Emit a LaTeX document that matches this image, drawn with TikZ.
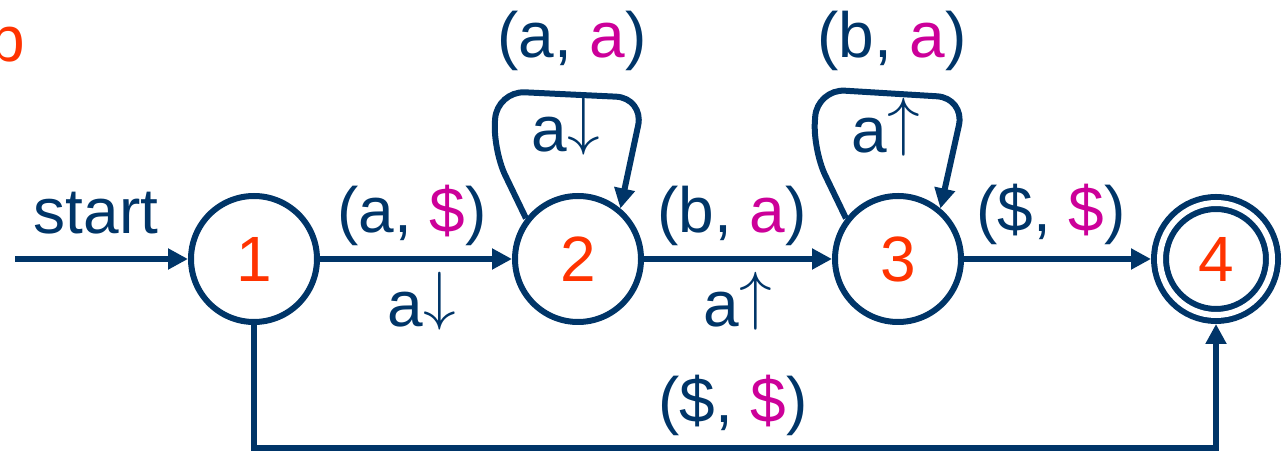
\documentclass[tikz,border=0pt]{standalone}
\usepackage{graphicx}
\usepackage{fontspec}
\setmainfont{Liberation Sans}
\usetikzlibrary{arrows.meta}
\definecolor{navy}{RGB}{0,53,104}
\definecolor{stnum}{RGB}{255,51,0}
\definecolor{pink}{RGB}{204,0,153}
\newcommand{\pk}[1]{\textcolor{pink}{#1}}
\newcommand{\pushdn}{\raisebox{4.8pt}{\resizebox*{!}{29pt}{$\downarrow$}}}
\newcommand{\popup}{\raisebox{4.8pt}{\resizebox*{!}{29pt}{$\uparrow$}}}

\begin{document}
\begin{tikzpicture}[x=0.5pt,y=-0.5pt,
  font=\fontsize{32}{38}\selectfont, text=navy,
  state/.style={circle,draw=navy,line width=3pt,minimum size=63pt,inner sep=0pt,text=stnum},
  accept/.style={circle,draw=navy,line width=3pt,double,double distance=3pt,
    minimum size=56pt,inner sep=0pt,outer sep=4.5pt,text=stnum},
  trans/.style={draw=navy,line width=3pt,-{Triangle[length=10pt,width=10pt]}},
  lbl/.style={anchor=base,inner sep=0pt}]

\useasboundingbox (0,0) rectangle (1284,453);

% states
\node[state] (s1) at (254,259) {1};
\node[state] (s2) at (578,259) {2};
\node[state] (s3) at (898,259) {3};
\node[accept] (s4) at (1216,259) {4};

% transitions
\coordinate (st) at (15,259);
\coordinate (bot) at (0,448);
\draw[trans] (st) -- (s1);
\draw[trans] (s1) -- (s2);
\draw[trans] (s2) -- (s3);
\draw[trans] (s3) -- (s4);
\draw[trans] (s1.south) -- (s1.south |- bot) -| (s4.south);
\draw[trans,rounded corners=14pt] (s2.142) -- (493,150) -- (497,91) -- (644,98) -- (s2.50);
\draw[trans,rounded corners=14pt] (s3.142) -- (813,150) -- (817,89) -- (965,98) -- (s3.50);

% labels
\node[lbl,anchor=base west,text=stnum] (part) at (-11,62) {b};
\node[lbl] (lstart) at (96,234) {start};
\node[lbl] (l12) at (412,233) {(a, \pk{\$})};
\node[lbl] (l12b) at (422,327) {a\pushdn};
\node[lbl] (l23) at (732,233) {(b, \pk{a})};
\node[lbl] (l23b) at (738,327) {a\popup};
\node[lbl] (l34) at (1051,232) {(\$, \pk{\$})};
\node[lbl] (l22) at (572,58) {(a, \pk{a})};
\node[lbl] (l22b) at (566,152) {a\pushdn};
\node[lbl] (l33) at (892,58) {(b, \pk{a})};
\node[lbl] (l33b) at (886,153) {a\popup};
\node[lbl] (l14) at (733,423) {(\$, \pk{\$})};

\end{tikzpicture}
\end{document}
